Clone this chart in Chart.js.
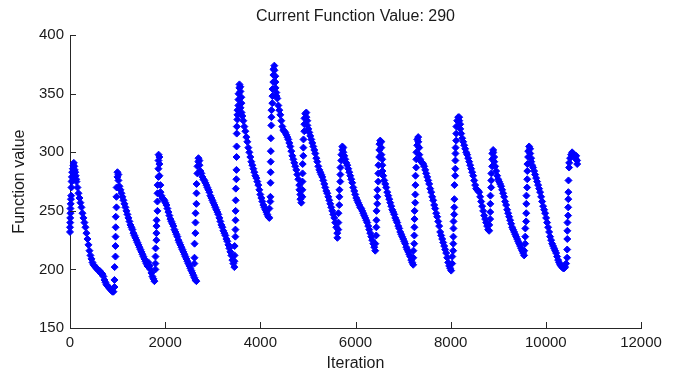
<!DOCTYPE html>
<html>
<head>
<meta charset="utf-8">
<script src="https://cdn.jsdelivr.net/npm/chart.js@4.4.1/dist/chart.umd.min.js"></script>
<style>
  html, body { margin: 0; padding: 0; background: #ffffff; }
  canvas { display: block; }
</style>
</head>
<body>
<canvas id="chart" width="679" height="376"></canvas>
<script>
// ---- data: [iteration, function value] pairs, one array per sweep ----
const cycle01 = [[0,232],[0,236],[5,240],[5,244],[10,248],[10,252],[15,256],[20,260],[25,263],[30,270],[35,275],[40,279],[45,283],[55,276],[60,286],[70,289],[80,291],[90,288],[100,285],[110,283],[120,280],[130,277],
  [136,275],[157,270],[178,265],[199,261],[220,257],[241,253],[262,248],[283,244],[304,240],[325,236],[346,231],[367,226],[388,221],[409,216],[430,212],[451,209],[472,206],[493,204],[514,203],[535,202],[556,201],[577,200],[598,199],[619,199],[640,197],[661,197],[682,196],[703,194],[724,191],[745,189],[766,187],[787,186],[808,185],[829,184],[850,183],[871,182],[892,181],[913,181]];
const cycle02 = [[934,185],[934,191],[938,202],[955,211],[955,220],[958,228],[960,236],[962,245],[976,253],[976,262],[980,270],[997,279],[997,283],[1018,281],[1018,276],
  [1039,271],[1060,268],[1081,265],[1102,262],[1123,259],[1144,256],[1165,253],[1186,250],[1207,247],[1228,244],[1249,241],[1270,238],[1291,236],[1312,234],[1333,231],[1354,229],[1375,227],[1396,225],[1417,223],[1438,221],[1459,219],[1480,217],[1501,215],[1522,213],[1543,211],[1564,209],[1585,207],[1606,205],[1627,203],[1648,206],[1669,203],[1690,200],[1711,197],[1732,194],[1753,192],[1774,190]];
const cycle03 = [[1795,200],[1795,205],[1797,211],[1799,218],[1816,225],[1816,231],[1818,237],[1820,242],[1837,250],[1837,258],[1839,265],[1841,272],[1858,279],[1858,286],[1860,293],[1862,298],[1879,296],[1879,290],
  [1880,280],[1900,272],[1902,266],[1921,263],[1942,261],[1963,260],[1984,259],[2005,257],[2026,255],[2047,252],[2068,249],[2089,246],[2110,243],[2131,241],[2152,239],[2173,237],[2194,234],[2215,232],[2236,230],[2257,228],[2278,225],[2299,223],[2320,221],[2341,219],[2362,217],[2383,215],[2404,213],[2425,211],[2446,209],[2467,207],[2488,205],[2509,203],[2530,201],[2551,199],[2572,197],[2593,195],[2614,193],[2635,191],[2656,190]];
const cycle04 = [[2614,205],[2616,210],[2618,222],[2635,231],[2637,240],[2639,248],[2656,256],[2658,265],[2660,273],[2677,282],[2679,288],[2698,292],[2700,295],[2719,293],[2721,289],[2740,284],
  [2761,282],[2782,279],[2803,277],[2824,276],[2845,274],[2866,272],[2887,270],[2908,268],[2929,266],[2950,263],[2971,261],[2992,259],[3013,257],[3034,255],[3055,253],[3076,251],[3097,249],[3118,247],[3139,244],[3160,241],[3181,238],[3202,236],[3223,233],[3244,231],[3265,229],[3286,226],[3307,224],[3328,221],[3349,218],[3370,215],[3391,212],[3412,208],[3433,205],[3454,202]];
const cycle05 = [[3456,207],[3458,212],[3460,220],[3475,228],[3477,234],[3479,242],[3481,250],[3483,259],[3485,269],[3496,277],[3498,285],[3500,296],[3502,305],[3504,316],[3506,322],[3517,328],[3519,332],[3521,336],[3538,340],[3540,345],[3542,350],[3559,355],[3561,358],[3580,356],[3582,352],[3601,347],[3603,342],[3584,338],[3605,334],[3622,331],
  [3643,327],[3664,322],[3685,318],[3706,313],[3727,309],[3748,304],[3769,300],[3790,296],[3811,292],[3832,289],[3853,286],[3874,283],[3895,280],[3916,278],[3937,275],[3958,272],[3979,268],[4000,264],[4021,261],[4042,258],[4063,255],[4084,253],[4105,251],[4126,249],[4147,247],[4168,245],[4189,244]];
const cycle06 = [[4190,252],[4210,258],[4212,262],[4214,274],[4216,283],[4218,292],[4220,301],[4222,312],[4231,323],[4233,330],[4235,336],[4252,342],[4254,348],[4256,354],[4273,360],[4275,366],[4277,371],[4294,374],[4296,370],[4315,365],[4317,360],[4319,355],[4336,351],[4338,348],[4357,346],
  [4378,340],[4399,336],[4420,332],[4441,327],[4462,322],[4483,319],[4504,318],[4525,317],[4546,315],[4567,313],[4588,311],[4609,308],[4630,305],[4651,301],[4672,297],[4693,294],[4714,291],[4735,288],[4756,285],[4777,281],[4798,277],[4819,272],[4821,268],[4840,264],[4842,260],[4861,257]];
const cycle07 = [[4882,262],[4884,268],[4886,275],[4888,282],[4890,290],[4903,297],[4905,304],[4907,311],[4924,318],[4926,324],[4928,329],[4945,333],[4966,334],[4968,330],[4987,327],[4989,323],
  [5008,320],[5029,317],[5050,314],[5071,311],[5092,308],[5113,305],[5134,302],[5155,299],[5176,295],[5197,292],[5218,288],[5239,285],[5260,283],[5281,281],[5302,279],[5323,276],[5344,273],[5365,270],[5386,267],[5407,265],[5428,262],[5449,259],[5470,256],[5491,253],[5512,250],[5533,247],[5554,244],[5575,240],[5596,236],[5617,231],[5619,227],[5638,234]];
const cycle08 = [[5640,240],[5642,248],[5659,255],[5661,262],[5663,268],[5680,275],[5682,281],[5684,287],[5701,293],[5703,298],[5722,302],[5724,305],[5743,304],[5745,300],[5764,297],
  [5785,294],[5806,291],[5827,289],[5848,286],[5869,283],[5890,280],[5911,277],[5932,274],[5953,270],[5974,267],[5995,264],[6016,261],[6037,259],[6058,257],[6079,255],[6100,253],[6121,252],[6142,250],[6163,248],[6184,246],[6205,244],[6226,242],[6247,240],[6268,237],[6289,234],[6310,231],[6331,228],[6352,225],[6373,222],[6394,219],[6415,216]];
const cycle09 = [[6417,222],[6436,229],[6438,236],[6440,242],[6442,250],[6457,256],[6459,262],[6461,268],[6478,275],[6480,282],[6482,289],[6499,296],[6501,302],[6503,307],[6520,310],[6541,309],[6543,304],[6545,298],[6562,294],[6564,289],[6566,284],[6583,280],
  [6604,276],[6625,273],[6646,270],[6667,266],[6688,263],[6709,260],[6730,257],[6751,254],[6772,251],[6793,249],[6814,247],[6835,244],[6856,242],[6877,240],[6898,237],[6919,235],[6940,232],[6961,230],[6982,228],[7003,226],[7024,224],[7045,222],[7066,219],[7087,217],[7108,215],[7129,213],[7150,211],[7171,208],[7192,206],[7213,204]];
const cycle10 = [[7215,210],[7217,216],[7234,222],[7236,229],[7238,236],[7240,243],[7242,250],[7255,257],[7257,264],[7259,272],[7261,280],[7276,287],[7278,294],[7280,300],[7297,306],[7299,311],[7318,313],[7320,309],[7339,304],[7341,298],[7360,294],
  [7381,292],[7402,291],[7423,290],[7444,288],[7465,285],[7486,282],[7507,279],[7528,276],[7549,273],[7570,269],[7591,266],[7612,262],[7633,259],[7654,255],[7675,252],[7696,248],[7717,245],[7738,241],[7759,237],[7780,232],[7801,229],[7822,226],[7843,223],[7864,220],[7885,217],[7906,214],[7927,210],[7948,206],[7969,203],[7990,201],[8011,199]];
const cycle11 = [[8032,205],[8034,211],[8053,216],[8055,222],[8057,228],[8059,235],[8061,241],[8074,247],[8076,253],[8078,260],[8080,272],[8095,280],[8097,286],[8099,293],[8101,299],[8103,304],[8116,310],[8118,316],[8120,322],[8137,327],[8158,330],[8179,330],[8181,327],[8200,324],[8202,320],[8221,316],
  [8242,312],[8263,309],[8284,306],[8305,303],[8326,300],[8347,298],[8368,295],[8389,292],[8410,289],[8431,286],[8452,283],[8473,280],[8494,276],[8515,272],[8536,269],[8557,268],[8578,267],[8599,266],[8620,262],[8641,258],[8662,254],[8683,250],[8704,246],[8725,243],[8746,240],[8767,237],[8788,234],[8809,233]];
const cycle12 = [[8811,238],[8830,243],[8832,249],[8834,256],[8836,263],[8851,270],[8853,276],[8855,282],[8872,288],[8874,294],[8876,299],[8893,302],[8895,300],[8914,296],[8916,292],
  [8935,288],[8956,284],[8977,280],[8998,277],[9019,275],[9040,273],[9061,271],[9082,268],[9103,265],[9124,262],[9145,258],[9166,255],[9187,251],[9208,248],[9229,245],[9250,242],[9271,239],[9292,236],[9313,234],[9334,232],[9355,230],[9376,228],[9397,226],[9418,224],[9439,222],[9460,220],[9481,218],[9502,216],[9523,214],[9544,212]];
const cycle13 = [[9546,216],[9565,222],[9567,228],[9569,235],[9586,241],[9588,248],[9590,256],[9592,263],[9607,270],[9609,277],[9611,284],[9613,290],[9628,296],[9630,301],[9649,305],[9670,303],[9672,299],[9691,295],[9693,292],
  [9712,289],[9733,287],[9754,284],[9775,281],[9796,278],[9817,275],[9838,272],[9859,269],[9880,266],[9901,262],[9922,258],[9943,254],[9964,251],[9985,248],[10006,244],[10027,240],[10048,236],[10069,232],[10090,228],[10111,225],[10132,222],[10153,220],[10174,218],[10195,216],[10216,214],[10237,211],[10258,208],[10279,206],[10300,204],[10321,203],[10342,202],[10363,201],[10384,201],[10405,202]];
const cycle14 = [[10426,205],[10447,210],[10449,217],[10451,226],[10453,233],[10455,240],[10468,246],[10470,253],[10472,260],[10474,266],[10476,276],[10489,287],[10491,291],[10510,295],[10531,298],[10552,300],[10573,299],[10594,298],[10615,296],[10636,294],[10638,297],[10657,293],[10659,290]];

const xTicks = [0, 2000, 4000, 6000, 8000, 10000, 12000];
const yTicks = [150, 200, 250, 300, 350, 400];
const titleText = 'Current Function Value: 290';
const xLabel = 'Iteration';
const yLabel = 'Function value';

// ---- build dataset ----
const allCycles = [cycle01, cycle02, cycle03, cycle04, cycle05, cycle06, cycle07,
                   cycle08, cycle09, cycle10, cycle11, cycle12, cycle13, cycle14];
const iterations = [];
const functionValues = [];
allCycles.forEach(c => c.forEach(p => { iterations.push(p[0]); functionValues.push(p[1]); }));
const points = iterations.map((x, i) => ({ x: x, y: functionValues[i] }));

const textColor = '#1a1a1a';
const axisColor = '#262626';
const fontFamily = '"Liberation Sans", Arial, Helvetica, sans-serif';
const tickFont = { family: fontFamily, size: 15, weight: 'normal' };
const labelFont = { family: fontFamily, size: 16, weight: 'normal' };

const inwardTicks = {
  id: 'inwardTicks',
  afterDraw(chart) {
    const { ctx, chartArea, scales } = chart;
    const xs = scales.x, ys = scales.y;
    ctx.save();
    ctx.strokeStyle = axisColor;
    ctx.lineWidth = 1;
    ctx.beginPath();
    xs.ticks.forEach(t => {
      const px = Math.round(xs.getPixelForValue(t.value)) + 0.5;
      ctx.moveTo(px, chartArea.bottom);
      ctx.lineTo(px, chartArea.bottom - 6);
    });
    ys.ticks.forEach(t => {
      const py = Math.round(ys.getPixelForValue(t.value)) + 0.5;
      ctx.moveTo(chartArea.left, py);
      ctx.lineTo(chartArea.left + 6, py);
    });
    ctx.stroke();
    ctx.restore();
  }
};

new Chart(document.getElementById('chart'), {
  type: 'scatter',
  data: {
    datasets: [{
      data: points,
      showLine: false,
      pointStyle: 'rectRot',
      pointRadius: 3.5,
      pointBorderWidth: 1,
      backgroundColor: '#0000ff',
      borderColor: '#0000ff',
      clip: false
    }]
  },
  options: {
    responsive: false,
    animation: false,
    devicePixelRatio: 1,
    layout: { padding: { left: 0, right: 38, top: 0, bottom: 0 } },
    plugins: {
      legend: { display: false },
      tooltip: { enabled: false },
      title: {
        display: true,
        text: titleText,
        fullSize: false,
        color: textColor,
        font: labelFont,
        padding: { top: 7, bottom: 9 }
      }
    },
    scales: {
      x: {
        type: 'linear',
        min: 0,
        max: 12000,
        afterBuildTicks: s => { s.ticks = xTicks.map(v => ({ value: v })); },
        afterFit: s => { s.height = 48; },
        ticks: { callback: v => String(v), color: textColor, font: tickFont, padding: 6, maxRotation: 0, autoSkip: false },
        grid: { drawOnChartArea: false, drawTicks: false },
        border: { display: true, color: axisColor, width: 1 },
        title: { display: true, text: xLabel, color: textColor, font: labelFont, padding: { top: 0, bottom: 3 } }
      },
      y: {
        type: 'linear',
        min: 150,
        max: 400,
        afterBuildTicks: s => { s.ticks = yTicks.map(v => ({ value: v })); },
        afterFit: s => { s.width = 70; },
        ticks: { callback: v => String(v), color: textColor, font: tickFont, padding: 6, autoSkip: false },
        grid: { drawOnChartArea: false, drawTicks: false },
        border: { display: true, color: axisColor, width: 1 },
        title: { display: true, text: yLabel, color: textColor, font: labelFont, padding: { top: 10, bottom: 0 } }
      }
    }
  },
  plugins: [inwardTicks]
});
</script>
</body>
</html>
